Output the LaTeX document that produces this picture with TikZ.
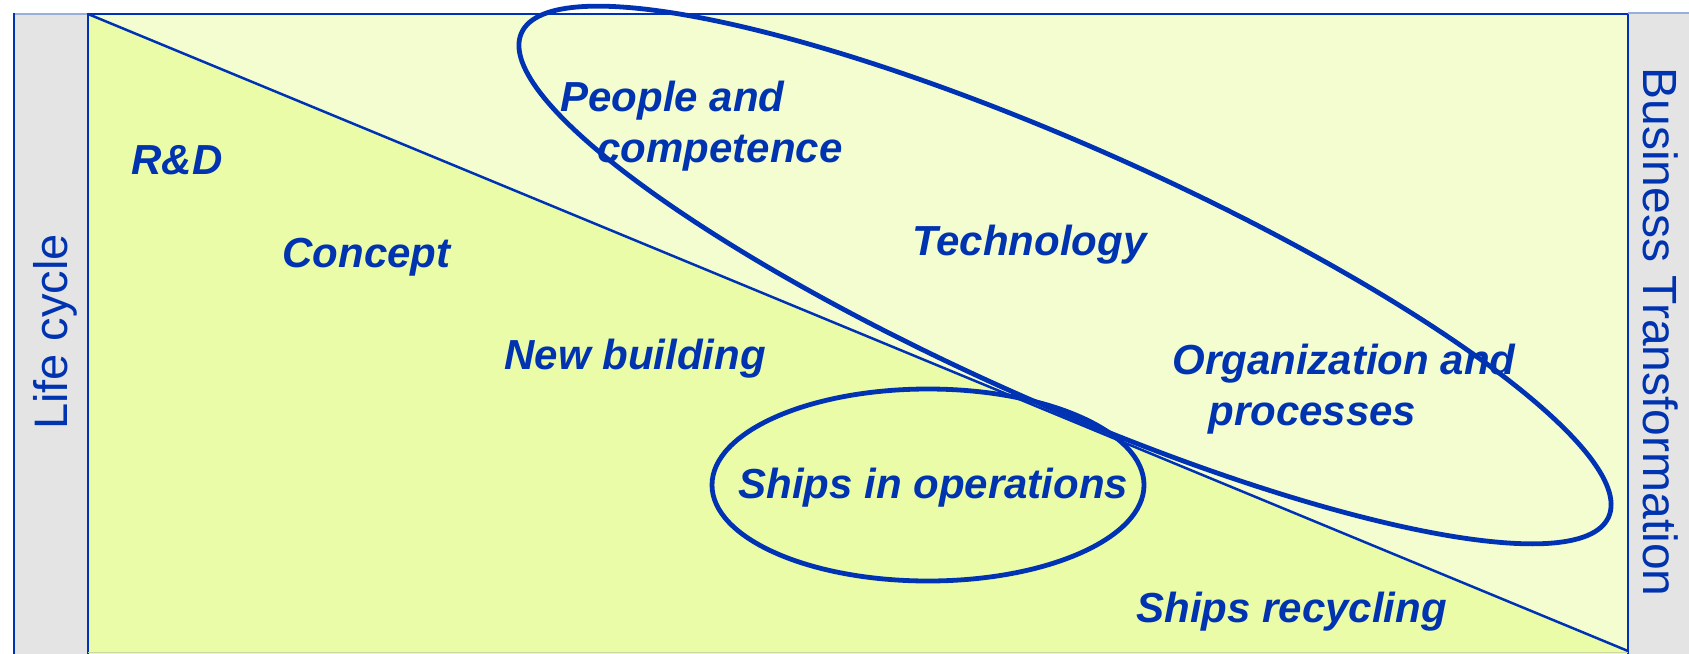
\documentclass[tikz,border=0pt]{standalone}
\usepackage{fontspec}
\setmainfont{Liberation Sans}
\definecolor{lineblue}{HTML}{0033B3}
\definecolor{txtblue}{HTML}{0033B0}
\definecolor{lowfill}{HTML}{EBFCA8}
\definecolor{upfill}{HTML}{F4FDD0}
\definecolor{stripgrey}{HTML}{E4E4E4}
\definecolor{edgelight}{HTML}{9AAEDC}
\begin{document}
\begin{tikzpicture}[x=0.5pt,y=-0.5pt,
  lab/.style={font=\fontsize{21}{25.5}\selectfont\bfseries\itshape, text=txtblue, inner sep=0pt, anchor=base west, align=left},
  side/.style={font=\fontsize{23.5}{28}\selectfont, text=txtblue, inner sep=0pt, anchor=base},
  border/.style={draw=lineblue, line width=1.4pt},
  diag/.style={draw=lineblue, line width=1.25pt},
  ring/.style={draw=lineblue, line width=2.4pt}]
\useasboundingbox (0,0) rectangle (1689,653);
\clip (0,0) rectangle (1689,653);
% corners of the main panel
\coordinate (tl) at (88,14);
\coordinate (tr) at (1628,14);
\coordinate (br) at (1628,651);
\coordinate (bl) at (88,653);
% fills
\fill[upfill] (88,14) rectangle (1628,660);
\fill[lowfill] (tl) -- (br) -- (1628,660) -- (88,660) -- cycle;
\fill[stripgrey] (14,14) rectangle (88,660);
\fill[stripgrey] (1628,13) rectangle (1695,660);
% strip edges
\draw[edgelight, line width=1pt] (14,14) -- (88,14);
\draw[edgelight, line width=1pt] (1628,13) -- (1695,13);
\draw[border] (14,13) -- (14,660);
\draw[border] (tl) -- (88,660);
\draw[border] (tr) -- (1628,660);
\draw[border] (87,14) -- (tr);
\draw[draw=lowfill!70!gray, line width=0.8pt] (88,652.5) -- (1628,652.5);
% diagonal
\draw[diag] (tl) -- (br);
% ellipses
\draw[ring, rotate around={-24:(1065,275)}] (1065,275) ellipse [x radius=297.5pt, y radius=64pt];
\draw[ring] (928,485) ellipse [x radius=108pt, y radius=48pt];
% labels
\node[lab] (rd) at (131,174) {R\&D};
\node[lab] (concept) at (282,267) {Concept};
\node[lab] (newb) at (504,369) {New building};
\node[lab] (ships) at (738,498) {Ships in operations};
\node[lab] (recyc) at (1136,622) {Ships recycling};
\node[lab] (people) at (560,162) {People and\\\hspace*{18.5pt}competence};
\node[lab] (tech) at (912,255) {Technology};
\node[lab] (org) at (1172,425) {Organization and\\\hspace*{18pt}processes};
\node[side, rotate=90] (life) at (67,332) {Life cycle};
\node[side, rotate=-90, font=\fontsize{24}{28}\selectfont] (bt) at (1643,332) {Business Transformation};
\end{tikzpicture}
\end{document}
